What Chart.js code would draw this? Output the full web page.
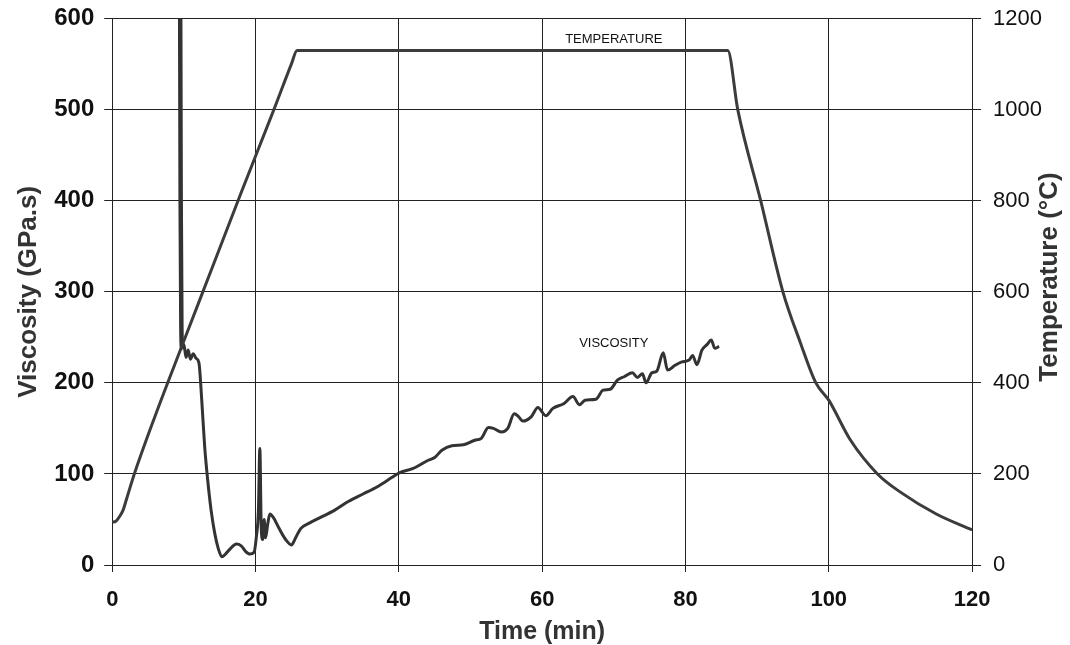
<!DOCTYPE html>
<html>
<head>
<meta charset="utf-8">
<script src="https://cdn.jsdelivr.net/npm/chart.js@4"></script>
<style>
  body { margin: 0; background: #fff; }
  #wrap { width: 1070px; height: 645px; }
</style>
</head>
<body>
<div id="wrap"><canvas id="myChart"></canvas></div>
<script>
// time (min) / temperature (°C) pairs
var tempTime = [0, 0.5, 1, 1.5, 2, 3, 6, 9.75, 14, 18, 22.56, 25, 25.8, 40, 60, 80, 85.9, 87.3, 90.5, 93.6, 96, 98.2, 100, 103, 106.8, 110, 115, 120];
var tempVals = [94, 96, 106, 120, 145, 196, 328, 482, 655, 818, 1000, 1100, 1130, 1130, 1130, 1130, 1130, 1000, 800, 600, 490, 400, 362, 275, 200, 160, 112, 77];

// time (min) / viscosity (GPa.s)
var viscTime = [9.45, 9.55, 9.65, 9.75, 10.0, 10.3, 10.6, 10.9, 11.3, 11.7, 12.1, 12.5, 12.9, 13.3, 13.8, 14.3, 14.8, 15.3, 15.8, 16.5, 17.3, 18.0, 18.6, 19.2, 19.8, 20.1, 20.4, 20.6, 20.8, 21.0, 21.2, 21.4, 21.7, 22.0, 22.5, 23.3, 24.2, 25.0, 25.6, 26.3, 27.5, 29, 31, 33, 35, 37, 39, 40, 42, 44.1, 45, 46, 47.4, 49, 50.6, 51.5, 52.5, 53.2, 54.3, 55.2, 56.1, 56.7, 57.3, 58.5, 59.4, 60.5, 61.5, 63, 64.3, 65.2, 66, 67.5, 68.5, 69.5, 70.5, 71.5, 72.6, 73.3, 74.0, 74.5, 75.3, 76.0, 76.9, 77.5, 78.5, 79.5, 80.5, 81.0, 81.6, 82.3, 83.0, 83.6, 84.1, 84.7];
var viscVals = [720, 400, 260, 238, 242, 228, 236, 226, 232, 227, 222, 180, 130, 95, 60, 35, 18, 9, 12, 18, 23, 21, 15, 12, 14, 30, 60, 128, 40, 28, 50, 30, 45, 56, 52, 40, 28, 22, 30, 40, 46, 52, 60, 70, 78, 86, 96, 101, 106, 115, 118, 126, 131, 132, 137, 139, 151, 150, 146, 150, 166, 163, 158, 163, 173, 164, 172, 177, 185, 176, 181, 182, 192, 193, 203, 207, 211, 206, 210, 200, 211, 213, 233, 214, 219, 223, 225, 230, 220, 236, 242, 247, 238, 240];

var xTicks = [0, 20, 40, 60, 80, 100, 120];

function pairs(xs, ys) {
  var out = [];
  for (var i = 0; i < xs.length; i++) out.push({x: xs[i], y: ys[i]});
  return out;
}

var fontName = '"Liberation Sans", Arial, sans-serif';

// draws the curve labels and the right axis title (bottom-to-top)
var labelsPlugin = {
  id: 'labels',
  afterDraw: function(chart) {
    var c = chart.ctx, xs = chart.scales.x, yT = chart.scales.yT, yV = chart.scales.y;
    c.save();
    c.fillStyle = '#111';
    c.font = '13px ' + fontName;
    c.textAlign = 'center';
    c.textBaseline = 'middle';
    c.fillText('TEMPERATURE', xs.getPixelForValue(70), yT.getPixelForValue(1155));
    c.fillText('VISCOSITY', xs.getPixelForValue(70), yV.getPixelForValue(243));
    c.translate(1050, 277);
    c.rotate(-Math.PI / 2);
    c.font = 'bold 26px ' + fontName;
    c.fillStyle = '#333';
    c.fillText('Temperature (\u00B0C)', 0, 0);
    c.restore();
  }
};

var ctx = document.getElementById('myChart').getContext('2d');
var chart = new Chart(ctx, {
  type: 'line',
  data: {
    datasets: [{
      label: 'Temperature',
      data: pairs(tempTime, tempVals),
      yAxisID: 'yT',
      borderColor: '#3c3c3c',
      borderWidth: 3,
      pointRadius: 0,
      cubicInterpolationMode: 'monotone'
    }, {
      label: 'Viscosity',
      data: pairs(viscTime, viscVals),
      yAxisID: 'y',
      borderColor: '#333',
      borderWidth: 3,
      pointRadius: 0,
      cubicInterpolationMode: 'monotone',
      // the first drop off the scale is drawn heavier in the original
      segment: { borderWidth: function(c) { return c.p0DataIndex < 3 ? 4.5 : 3; } }
    }]
  },
  options: {
    responsive: true,
    maintainAspectRatio: false,
    animation: false,
    layout: { padding: { top: 18, right: 16, left: 13, bottom: 0 } },
    plugins: { legend: { display: false }, tooltip: { enabled: false } },
    scales: {
      x: {
        type: 'linear', min: 0, max: 120,
        afterBuildTicks: function(s) { s.ticks = xTicks.map(function(v) { return {value: v}; }); },
        grid: { color: '#222', lineWidth: 1, tickLength: 7 },
        border: { color: '#222' },
        ticks: { color: '#111', font: { family: fontName, size: 22, weight: 'bold', lineHeight: 1 }, padding: 17 },
        title: { display: true, text: 'Time (min)', color: '#333', font: { family: fontName, size: 25, weight: 'bold', lineHeight: 1 }, padding: { top: -8, bottom: 0 } }
      },
      y: {
        position: 'left', min: 0, max: 600,
        ticks: { stepSize: 100, color: '#111', font: { family: fontName, size: 24, weight: 'bold', lineHeight: 0.6 }, padding: 10 },
        grid: { color: '#222', lineWidth: 1, tickLength: 8 },
        border: { color: '#222' },
        title: { display: true, text: 'Viscosity (GPa.s)', color: '#333', font: { family: fontName, size: 26, weight: 'bold' }, padding: { top: 0, bottom: 0 } }
      },
      yT: {
        position: 'right', min: 0, max: 1200,
        ticks: { stepSize: 200, color: '#111', font: { family: fontName, size: 22, lineHeight: 0.6 }, padding: 12,
                 callback: function(v) { return String(v); } },
        grid: { drawOnChartArea: false, color: '#222', tickLength: 9 },
        border: { color: '#222' }
      }
    }
  },
  plugins: [labelsPlugin]
});
</script>
</body>
</html>
